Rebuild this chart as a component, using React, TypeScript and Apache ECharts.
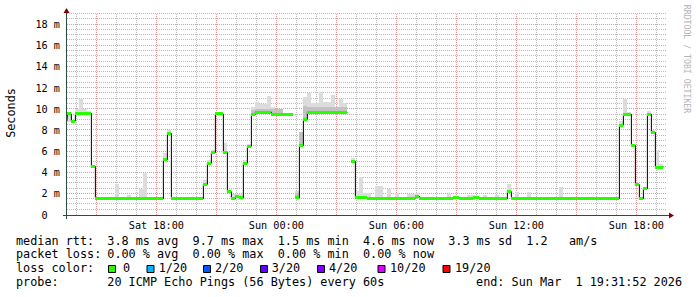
import React, { useEffect, useRef } from "react";
import * as echarts from "echarts";

// time values are hours since Sat 00:00
const START_H = 13 + 31 / 60 + 52 / 3600; // Sat 13:31:52
const END_H = START_H + 30; // Sun 19:31:52

// median rtt steps (ms)
const medianStart = [13.53, 13.55, 13.75, 13.95, 14.75, 14.95, 18.35, 18.55, 18.75, 20.35, 20.55, 20.75, 20.95, 21.35, 21.55, 21.75, 21.95, 22.15, 22.35, 22.55, 22.75, 22.95, 23.75, 24.95, 25.15, 25.35, 25.55, 27.75, 27.95, 28.55, 29.35, 30.55, 30.95, 31.15, 31.35, 32.85, 33.15, 33.85, 34.15, 35.55, 35.75, 41.15, 41.35, 41.75, 41.95, 42.15, 42.35, 42.55, 42.75, 42.95];
const medianEnd = [13.55, 13.75, 13.95, 14.75, 14.95, 18.35, 18.55, 18.75, 20.35, 20.55, 20.75, 20.95, 21.35, 21.55, 21.75, 21.95, 22.15, 22.35, 22.55, 22.75, 22.95, 23.75, 24.82, 25.15, 25.35, 25.55, 27.55, 27.95, 28.55, 29.35, 30.55, 30.95, 31.15, 31.35, 32.85, 33.15, 33.85, 34.15, 35.55, 35.75, 41.15, 41.35, 41.75, 41.95, 42.15, 42.35, 42.55, 42.75, 42.95, 43.35];
const medianMs = [8.9, 9.55, 8.88, 9.6, 4.6, 1.56, 5.2, 7.7, 1.56, 2.9, 4.9, 5.9, 9.55, 5.9, 2.2, 1.56, 1.72, 1.62, 4.9, 6.5, 9.53, 9.72, 9.5, 1.63, 6.56, 9.06, 9.69, 5.06, 1.65, 1.6, 1.56, 1.6, 1.75, 1.6, 1.53, 1.63, 1.53, 1.63, 1.53, 2.2, 1.56, 8.5, 9.53, 6.56, 2.87, 1.56, 2.5, 9.53, 7.81, 4.53];

// smoke (ping spread) upper edge per step (ms)
const smokeStart = [13.53, 13.95, 14.15, 14.35, 14.55, 15.95, 16.55, 17.15, 17.35, 18.35, 18.55, 20.35, 20.55, 20.75, 20.95, 21.35, 21.55, 21.75, 22.35, 22.55, 22.75, 22.95, 23.15, 23.55, 23.75, 23.95, 24.35, 24.95, 25.15, 25.35, 25.55, 25.75, 26.15, 26.35, 26.75, 26.95, 27.15, 27.35, 27.75, 27.95, 28.15, 28.35, 28.95, 29.55, 29.95, 30.55, 30.95, 32.55, 33.55, 34.35, 34.95, 35.55, 35.95, 36.55, 38.15, 41.15, 41.35, 41.55, 41.75, 41.95, 42.35, 42.55, 42.75, 42.95, 43.15];
const smokeEnd = [13.75, 14.15, 14.35, 14.55, 14.75, 16.15, 16.75, 17.35, 17.55, 18.55, 18.75, 20.55, 20.75, 20.95, 21.35, 21.55, 21.75, 22.35, 22.55, 22.75, 22.95, 23.15, 23.55, 23.75, 23.95, 24.35, 24.82, 25.15, 25.35, 25.55, 25.75, 26.15, 26.35, 26.75, 26.95, 27.15, 27.35, 27.55, 27.95, 28.15, 28.35, 28.75, 29.35, 29.75, 30.15, 30.95, 31.15, 32.75, 33.95, 34.55, 35.15, 35.75, 36.15, 36.75, 38.35, 41.35, 41.55, 41.75, 41.95, 42.15, 42.55, 42.75, 42.95, 43.15, 43.35];
const smokeHighMs = [9.75, 10.0, 10.94, 10.05, 9.8, 2.94, 1.88, 2.5, 4.0, 5.88, 8.0, 3.28, 5.16, 6.1, 9.72, 6.85, 2.34, 2.0, 5.2, 6.72, 10.2, 10.69, 10.47, 11.25, 10.2, 9.84, 9.65, 2.25, 7.8, 11.2, 11.5, 10.56, 11.63, 10.69, 11.3, 10.25, 10.94, 10.63, 5.38, 2.3, 3.6, 2.12, 2.72, 2.5, 2.1, 2.0, 2.1, 1.95, 1.9, 1.9, 1.9, 2.97, 2.19, 2.19, 2.66, 8.9, 10.94, 9.69, 6.7, 2.95, 2.6, 9.84, 8.03, 6.16, 4.84];

// denser (darker) part of the smoke near the median (ms)
const denseStart = [22.75, 22.95, 24.95, 25.15, 25.35, 25.55];
const denseEnd = [22.95, 24.35, 25.15, 25.35, 25.55, 27.55];
const denseHighMs = [9.95, 10.0, 2.05, 7.8, 10.3, 10.2];

const xLabelHours = [18, 24, 30, 36, 42];
const xLabelTexts = ["Sat 18:00", "Sun 00:00", "Sun 06:00", "Sun 12:00", "Sun 18:00"];
const yLabelValues = [0, 2, 4, 6, 8, 10, 12, 14, 16, 18];
const yLabelTexts = ["0  ", "2 m", "4 m", "6 m", "8 m", "10 m", "12 m", "14 m", "16 m", "18 m"];

const statLabels = ["median rtt:", "packet loss:", "loss color:", "probe:"];
const statValues = [
  "3.8 ms avg  9.7 ms max  1.5 ms min  4.6 ms now  3.3 ms sd  1.2   am/s",
  "0.00 % avg  0.00 % max  0.00 % min  0.00 % now",
  "",
  "20 ICMP Echo Pings (56 Bytes) every 60s",
];
const lossLabels = ["0", "1/20", "2/20", "3/20", "4/20", "10/20", "19/20"];
const lossColors = ["#26ff00", "#00b8ff", "#0059ff", "#5e00ff", "#7e00ff", "#dd00ff", "#ff0000"];
const endText = "end: Sun Mar  1 19:31:52 2026";
const watermark = "RRDTOOL / TOBI OETIKER";

const MONO = '"DejaVu Sans Mono", monospace';
const nb = (s: string) => s.replace(/ /g, "\u00a0");

function medianAt(h: number): number {
  for (let i = 0; i < medianStart.length; i++) {
    if (h >= medianStart[i] && h < medianEnd[i]) return medianMs[i];
  }
  return 0;
}

function bandRender(fill: string) {
  return (params: any, api: any) => {
    const a = api.coord([api.value(0), api.value(3)]);
    const b = api.coord([api.value(1), api.value(2)]);
    const x0 = Math.round(a[0]);
    const x1 = Math.round(b[0]);
    const y0 = Math.round(a[1]);
    const y1 = Math.round(b[1]);
    return { type: "rect", shape: { x: x0, y: y0, width: x1 - x0, height: y1 - y0 }, style: { fill } };
  };
}

function buildOption(): any {
  // grid lines
  const gridData: number[][] = [];
  for (let h = 14; h <= 43; h++) if (h % 3 !== 0) gridData.push([0, h]);
  for (let h = 15; h <= 43; h += 3) gridData.push([1, h]);
  for (let v = 0.5; v <= 19.001; v += 0.5) if (Math.abs(v % 2) > 1e-6) gridData.push([2, v]);
  for (let v = 2; v <= 18; v += 2) gridData.push([3, v]);

  const smokeData = smokeStart.map((s, i) => [s, smokeEnd[i], medianAt(s + 0.01) - 0.1, smokeHighMs[i]]);
  const denseData = denseStart.map((s, i) => [s, denseEnd[i], medianAt(s + 0.01) - 0.1, denseHighMs[i]]);
  const greenData = medianStart.map((s, i) => [s, medianEnd[i], medianMs[i]]);
  const blackLine: any[] = [];
  for (let i = 0; i < medianStart.length; i++) {
    if (i > 0 && Math.abs(medianStart[i] - medianEnd[i - 1]) > 1e-6) blackLine.push([medianEnd[i - 1], null]);
    blackLine.push([medianStart[i], medianMs[i]], [medianEnd[i], medianMs[i]]);
  }

  const graphic: any[] = [];
  // axes
  graphic.push({ type: "line", silent: true, z: 50, shape: { x1: 63, y1: 215.5, x2: 670, y2: 215.5 }, style: { stroke: "#2c4d43", lineWidth: 1 } });
  graphic.push({ type: "line", silent: true, z: 50, shape: { x1: 66.5, y1: 219, x2: 66.5, y2: 12 }, style: { stroke: "#2c4d43", lineWidth: 1 } });
  graphic.push({ type: "polygon", silent: true, z: 51, shape: { points: [[669, 212.5], [674, 215.5], [669, 218.5]] }, style: { fill: "#7f0000" } });
  graphic.push({ type: "polygon", silent: true, z: 51, shape: { points: [[63.5, 13], [66.5, 8], [69.5, 13]] }, style: { fill: "#7f0000" } });
  // titles
  graphic.push({ type: "text", x: 11, y: 113, rotation: Math.PI / 2, style: { text: "Seconds", fontFamily: MONO, fontSize: 11.8, fill: "#000", align: "center", verticalAlign: "middle" } });
  graphic.push({ type: "text", x: 687, y: 59, rotation: -Math.PI / 2, style: { text: nb(watermark), fontFamily: MONO, fontSize: 8.2, fill: "#b4b4b4", align: "center", verticalAlign: "middle" } });
  // legend rows
  const rowY = [240.5, 254.2, 267.9, 281.6];
  statLabels.forEach((lab, i) => {
    graphic.push({ type: "text", x: 16, y: rowY[i], style: { text: nb(lab), fontFamily: MONO, fontSize: 11.8, fill: "#000", align: "left", verticalAlign: "middle" } });
    if (statValues[i]) {
      graphic.push({ type: "text", x: 107.3, y: rowY[i], style: { text: nb(statValues[i]), fontFamily: MONO, fontSize: 11.8, fill: "#000", align: "left", verticalAlign: "middle" } });
    }
  });
  const boxX = [108, 146.5, 203, 260, 317, 377.5, 442.5];
  const lossTextX = [123, 158.7, 215, 271.7, 329, 390, 455];
  lossLabels.forEach((lab, i) => {
    graphic.push({ type: "rect", shape: { x: boxX[i] + 0.5, y: 265.5, width: 7, height: 7 }, style: { fill: lossColors[i], stroke: "#000", lineWidth: 1 } });
    graphic.push({ type: "text", x: lossTextX[i], y: rowY[2], style: { text: lab, fontFamily: MONO, fontSize: 11.8, fill: "#000", align: "left", verticalAlign: "middle" } });
  });
  graphic.push({ type: "text", x: 682, y: rowY[3], style: { text: nb(endText), fontFamily: MONO, fontSize: 11.8, fill: "#000", align: "right", verticalAlign: "middle" } });

  return {
    animation: false,
    backgroundColor: "#ffffff",
    grid: { left: 67, top: 14, width: 600, height: 201, containLabel: false },
    xAxis: {
      type: "value",
      min: START_H,
      max: END_H,
      axisLine: { show: false },
      axisTick: { show: false },
      splitLine: { show: false },
      axisLabel: {
        customValues: xLabelHours,
        formatter: (v: number) => {
          const i = xLabelHours.findIndex((h) => Math.abs(h - v) < 1e-6);
          return i >= 0 ? nb(xLabelTexts[i]) : "";
        },
        fontFamily: MONO,
        fontSize: 10.2,
        color: "#000",
        margin: 5,
      },
    },
    yAxis: {
      type: "value",
      min: 0,
      max: 19,
      axisLine: { show: false },
      axisTick: { show: false },
      splitLine: { show: false },
      axisLabel: {
        customValues: yLabelValues,
        formatter: (v: number) => {
          const i = yLabelValues.findIndex((h) => Math.abs(h - v) < 1e-6);
          return i >= 0 ? nb(yLabelTexts[i]) : "";
        },
        fontFamily: MONO,
        fontSize: 10.2,
        color: "#000",
        align: "right",
        margin: 7,
      },
    },
    graphic,
    series: [
      {
        type: "custom",
        silent: true,
        z: 1,
        data: gridData,
        encode: { x: 1, y: 1 },
        renderItem: (params: any, api: any) => {
          const kind = api.value(0);
          const v = api.value(1);
          const cs = params.coordSys;
          const color = kind === 1 || kind === 3 ? "#e89696" : "#bababa";
          if (kind <= 1) {
            const x = Math.round(api.coord([v, 0])[0]) + 0.5;
            return { type: "line", shape: { x1: x, y1: cs.y, x2: x, y2: cs.y + cs.height }, style: { stroke: color, lineWidth: 1, lineDash: [1, 1] }, z2: kind };
          }
          const y = Math.round(api.coord([START_H, v])[1]) - 0.5;
          return { type: "line", shape: { x1: cs.x, y1: y, x2: cs.x + cs.width, y2: y }, style: { stroke: color, lineWidth: 1, lineDash: [1, 1] }, z2: kind };
        },
      },
      {
        type: "custom",
        silent: true,
        z: 2,
        data: smokeData,
        encode: { x: [0, 1], y: [2, 3] },
        renderItem: bandRender("#dcdcdc"),
      },
      {
        type: "custom",
        silent: true,
        z: 2,
        data: denseData,
        encode: { x: [0, 1], y: [2, 3] },
        renderItem: bandRender("#c2c2c2"),
      },
      {
        type: "line",
        silent: true,
        z: 3,
        data: blackLine,
        showSymbol: false,
        symbol: "none",
        connectNulls: false,
        lineStyle: { color: "#000", width: 1 },
      },
      {
        type: "custom",
        silent: true,
        z: 4,
        data: greenData,
        encode: { x: [0, 1], y: 2 },
        renderItem: (params: any, api: any) => {
          const a = api.coord([api.value(0), api.value(2)]);
          const b = api.coord([api.value(1), api.value(2)]);
          const x0 = Math.round(a[0]);
          const x1 = Math.round(b[0]);
          const y = Math.floor(a[1]) - 1;
          return { type: "rect", shape: { x: x0, y, width: x1 - x0, height: 3 }, style: { fill: "#26ff00" } };
        },
      },
    ],
  };
}

export default function App() {
  const ref = useRef<HTMLDivElement>(null);
  useEffect(() => {
    if (!ref.current) return;
    const chart = echarts.init(ref.current, undefined, { renderer: "svg", width: 697, height: 297 });
    chart.setOption(buildOption());
    return () => chart.dispose();
  }, []);
  return <div ref={ref} style={{ position: "fixed", left: 0, top: 0, width: 697, height: 297, background: "#fff" }} />;
}
